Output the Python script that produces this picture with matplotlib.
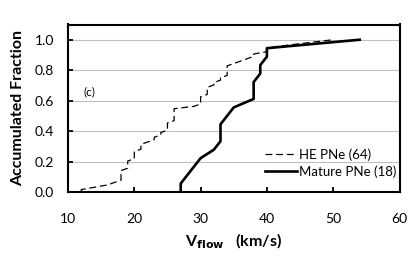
import numpy as np
import matplotlib
matplotlib.use("Agg")
import matplotlib.pyplot as plt

plt.rcParams['font.family'] = ['Lato', 'DejaVu Sans']

# HE PNe (64): distinct flow velocities and how many objects have each
he_vflow = [12, 14, 16, 17, 18, 19, 20, 21, 22, 23, 24, 25, 26, 29, 30, 31,
            32, 33, 34, 35, 36, 37, 38, 40, 41, 44, 47, 50]
he_count = [1, 1, 1, 1, 5, 4, 4, 3, 1, 2, 2, 4, 6, 1, 4, 4,
            2, 2, 5, 1, 1, 1, 2, 2, 1, 1, 1, 1]

# Mature PNe (18): sorted flow velocities
mature_vflow = [27, 28, 29, 30, 32, 33, 33, 33, 34, 35, 38, 38, 38, 39, 39, 40, 40, 54]

x_ticks = [10, 20, 30, 40, 50, 60]
y_ticks = [0.0, 0.2, 0.4, 0.6, 0.8, 1.0]


def cumulative(values):
    v = np.sort(np.asarray(values, dtype=float))
    frac = np.arange(1, len(v) + 1) / len(v)
    # start each curve from zero at the lowest value
    return np.concatenate([[v[0]], v]), np.concatenate([[0.0], frac])


he_x, he_y = cumulative(np.repeat(he_vflow, he_count))
mat_x, mat_y = cumulative(mature_vflow)

fig = plt.figure(figsize=(4.15, 2.57), dpi=100)
ax = fig.add_axes([68 / 415, 1 - 192 / 257, 331.5 / 415, 167.5 / 257])

ax.plot(he_x, he_y, color='black', lw=0.9, linestyle=(0, (5.5, 3.0)),
        label='HE PNe (64)', zorder=3)
ax.plot(mat_x, mat_y, color='black', lw=1.9, label='Mature PNe (18)', zorder=4)

ax.set_xlim(10, 60)
ax.set_ylim(0, 1.1)
ax.set_xticks(x_ticks)
ax.set_yticks(y_ticks)
ax.set_yticklabels([f"{t:.1f}" for t in y_ticks])
ax.yaxis.grid(True, color='#bfbfbf', lw=0.8)
ax.set_axisbelow(True)

for s in ax.spines.values():
    s.set_linewidth(1.5)
ax.tick_params(axis='both', direction='in', length=3.5, width=1.3,
               labelsize=10, colors='black')
ax.tick_params(axis='x', pad=15)
ax.tick_params(axis='y', pad=10)

ax.set_ylabel('Accumulated Fraction', fontsize=11.5, fontweight='bold', labelpad=7)
ax.set_xlabel(r'V$_{\mathbf{flow}}$   (km/s)', fontsize=11.5, fontweight='bold', labelpad=5)

ax.text(12.3, 0.66, '(c)', fontsize=8.5, va='center', ha='left')

ax.legend(loc='center left', bbox_to_anchor=(0.595, 0.174), frameon=False,
          fontsize=9.5, borderaxespad=0, borderpad=0, handlelength=2.4,
          handletextpad=0.15, labelspacing=0.35)

fig.savefig('out.png', dpi=100)
